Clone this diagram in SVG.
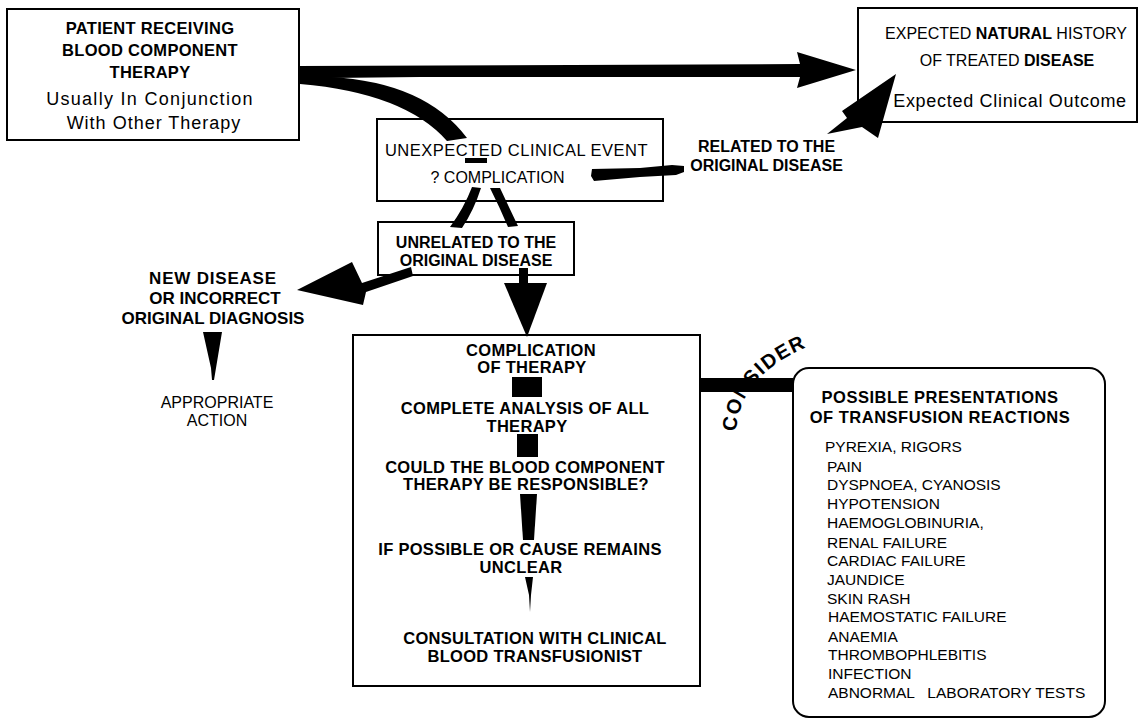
<svg xmlns="http://www.w3.org/2000/svg" width="1139" height="720" viewBox="0 0 1139 720">
<style>
.box{fill:#fff;stroke:#000;stroke-width:2}
.ink{fill:#000;stroke:none}
text{font-family:"Liberation Sans",Arial,sans-serif;fill:#000}
.b{font-weight:bold}
.c{text-anchor:middle}
.t16b{font-size:16px;font-weight:bold}
.t165b{font-size:16.5px;font-weight:bold;letter-spacing:0.3px}
.t16{font-size:16px}
.list{font-size:15.5px}
</style>
<defs>
<path id="consPath" d="M 736,432 Q 740,368 826,340"/>
</defs>
<rect width="1139" height="720" fill="#fff"/>

<g id="patient">
  <rect class="box" x="7" y="9" width="292" height="131"/>
  <text class="c t165b" x="150" y="34">PATIENT RECEIVING</text>
  <text class="c t165b" x="150" y="56">BLOOD COMPONENT</text>
  <text class="c t165b" x="150" y="78">THERAPY</text>
  <text class="c" x="150" y="104.5" font-size="18" letter-spacing="1.3">Usually In Conjunction</text>
  <text class="c" x="154" y="128.5" font-size="18" letter-spacing="1">With Other Therapy</text>
</g>

<g id="expected">
  <rect class="box" x="858" y="8" width="279" height="114"/>
  <text class="c t16" x="1006" y="39">EXPECTED <tspan class="b">NATURAL</tspan> HISTORY</text>
  <text class="c t16" x="1007" y="66">OF TREATED <tspan class="b">DISEASE</tspan></text>
  <text class="c" x="1010" y="106.5" font-size="18" letter-spacing="0.7">Expected Clinical Outcome</text>
</g>

<g id="event">
  <rect class="box" x="377" y="119" width="286" height="82"/>
  <text class="c" x="516.5" y="156" font-size="16.5" letter-spacing="0.5">UNEXPECTED CLINICAL EVENT</text>
  <text class="c t16" x="497.5" y="183">?  COMPLICATION</text>
</g>

<g id="related">
  <text class="c t16b" x="766.5" y="152">RELATED TO THE</text>
  <text class="c t16b" x="766.5" y="171">ORIGINAL DISEASE</text>
</g>

<g id="unrelated">
  <rect class="box" x="378" y="222" width="196" height="53"/>
  <text class="c t16b" x="476" y="248">UNRELATED TO THE</text>
  <text class="c t16b" x="476" y="266">ORIGINAL DISEASE</text>
</g>

<g id="newdisease">
  <text class="c b" x="213" y="284" font-size="17" letter-spacing="0.8">NEW DISEASE</text>
  <text class="c b" x="215" y="304" font-size="17">OR INCORRECT</text>
  <text class="c b" x="213" y="324" font-size="17">ORIGINAL DIAGNOSIS</text>
</g>

<g id="action">
  <text class="c t16" x="217" y="408">APPROPRIATE</text>
  <text class="c t16" x="217" y="426">ACTION</text>
</g>

<g id="complication">
  <rect class="box" x="353" y="335" width="347" height="351"/>
  <text class="c t165b" x="531" y="356">COMPLICATION</text>
  <text class="c t165b" x="532" y="373">OF THERAPY</text>
  <text class="c t165b" x="525" y="414">COMPLETE ANALYSIS OF ALL</text>
  <text class="c t165b" x="527" y="432">THERAPY</text>
  <text class="c t165b" x="525" y="473">COULD THE BLOOD COMPONENT</text>
  <text class="c t165b" x="526" y="490">THERAPY BE RESPONSIBLE?</text>
  <text class="c t165b" x="520" y="555">IF POSSIBLE OR CAUSE REMAINS</text>
  <text class="c t165b" x="521" y="573">UNCLEAR</text>
  <text class="c t165b" x="535" y="644">CONSULTATION WITH CLINICAL</text>
  <text class="c t165b" x="535" y="662">BLOOD TRANSFUSIONIST</text>
</g>

<g id="presentations">
  <rect class="box" x="793" y="368" width="312" height="349" rx="16" ry="16"/>
  <text class="c b" x="940" y="403" font-size="16.5" letter-spacing="0.5">POSSIBLE PRESENTATIONS</text>
  <text class="c b" x="940" y="423" font-size="16.5" letter-spacing="0.5">OF TRANSFUSION REACTIONS</text>
  <text class="list" x="825" y="451.6">PYREXIA, RIGORS</text>
  <text class="list" x="827" y="471.6">PAIN</text>
  <text class="list" x="827" y="489.6">DYSPNOEA, CYANOSIS</text>
  <text class="list" x="827" y="508.6">HYPOTENSION</text>
  <text class="list" x="827" y="527.6">HAEMOGLOBINURIA,</text>
  <text class="list" x="827" y="547.6">RENAL FAILURE</text>
  <text class="list" x="827" y="565.6">CARDIAC FAILURE</text>
  <text class="list" x="827" y="584.6">JAUNDICE</text>
  <text class="list" x="827" y="603.6">SKIN RASH</text>
  <text class="list" x="828" y="621.6">HAEMOSTATIC FAILURE</text>
  <text class="list" x="828" y="641.6">ANAEMIA</text>
  <text class="list" x="828" y="659.6">THROMBOPHLEBITIS</text>
  <text class="list" x="828" y="678.6">INFECTION</text>
  <text class="list" x="828" y="697.6" xml:space="preserve">ABNORMAL   LABORATORY TESTS</text>
</g>

<g id="connectors">
  <!-- main arrow patient -> expected -->
  <polygon class="ink" points="299,66 800,64 797,52 856,70 797,88 800,77 420,77 330,78 299,83"/>
  <!-- curved branch to unexpected event -->
  <path class="ink" d="M300,76 L330,77 Q425,82 467,138 L447,141 Q405,93 300,84 Z"/>
  <rect class="ink" x="465" y="158" width="22" height="5"/>
  <!-- two strokes below event box -->
  <path class="ink" d="M472,187 L481,188 Q474,210 462,228 L450,227 Q464,208 472,187 Z"/>
  <path class="ink" d="M490,188 L500,188 Q508,205 518,226 L508,227 Q500,208 490,188 Z"/>
  <!-- event -> related label -->
  <polygon class="ink" points="592,169 640,168 672,165 684,166 684,172 676,175 640,177 594,181 591,176"/>
  <!-- related -> expected -->
  <polygon class="ink" points="896,74 878,138 862,127 827,134 847,118 842,111"/>
  <!-- unrelated -> new disease -->
  <polygon class="ink" points="297,290 352,262 362,283 411,267 413,276 366,292 363,305"/>
  <!-- unrelated -> complication -->
  <rect class="ink" x="519" y="268" width="9" height="17"/>
  <polygon class="ink" points="504,283 547,283 527,337"/>
  <!-- new disease -> appropriate action -->
  <polygon class="ink" points="203,332 222,332 216,368 214,380 212,380 211,368"/>
  <!-- inner flow of complication box -->
  <rect class="ink" x="512" y="377" width="30" height="20"/>
  <rect class="ink" x="517" y="434" width="21" height="23"/>
  <polygon class="ink" points="520,494 537,494 534,540 523,540"/>
  <polygon class="ink" points="525,577 533,577 531,595 530,612 529,595"/>
  <!-- consider bar -->
  <rect class="ink" x="700" y="378" width="93" height="14"/>
  <text class="b" font-size="20" letter-spacing="1.5"><textPath href="#consPath">CONSIDER</textPath></text>
</g>
</svg>
